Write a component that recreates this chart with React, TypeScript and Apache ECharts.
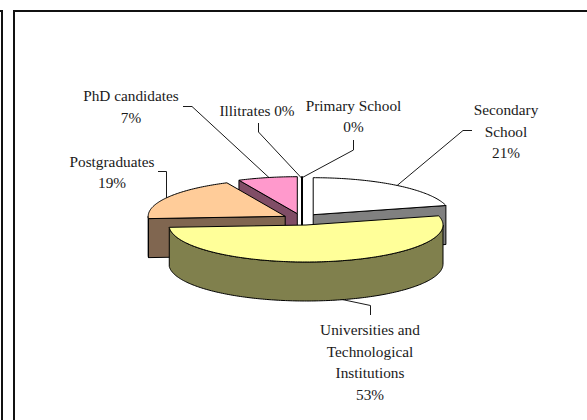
import React, { useEffect, useRef } from "react";
import * as echarts from "echarts";

// Attainment groups in clockwise order, starting at twelve o'clock.
const categories = [
  "Secondary\nSchool",
  "Universities and\nTechnological\nInstitutions",
  "Postgraduates",
  "PhD candidates",
  "Illitrates",
  "Primary School",
];
const shares = [21, 53, 19, 7, 0, 0];

const topColors = ["#ffffff", "#ffff99", "#ffcc99", "#ff99cc", "#000000", "#000000"];
const sideColors = ["#808080", "#80804d", "#806650", "#804d66", "#000000", "#000000"];

// Back-to-front painting rank of each slice.
const paintRank = [3, 4, 2, 1, 0, 0];

// Pie geometry: tilted ellipse radii, extrusion and each slice's pull-out.
const PIE = { cx: 301.5, cy: 219.3, rx: 137, ry: 37, depth: 39 };
const pullOut = [
  [11.7, -4.6],
  [4.5, 5.7],
  [-16.3, -3],
  [-4.2, -5.6],
  [0.5, -5.8],
  [0.5, -5.8],
];

// Label anchors and their leader lines.
const labelAnchors = [
  [506, 131],
  [370, 362],
  [112, 172],
  [131, 106.5],
  [257, 110],
  [353.5, 116],
];
const leaders = [
  [[472, 130.5], [463, 130.5], [396.5, 186]],
  [[335, 298], [370.5, 305.5], [370.5, 315]],
  [[158, 171.5], [166.5, 171.5], [166.5, 198]],
  [[183, 106.5], [192, 106.5], [270, 178.5]],
  [[258.5, 123], [258.5, 132], [301.5, 178]],
  [[353.5, 140], [353.5, 150], [301.5, 178]],
];

const FONT = "'Liberation Serif', 'Times New Roman', serif";
const total = shares.reduce((a, b) => a + b, 0);

function rad(deg: number) {
  return (deg * Math.PI) / 180;
}

function rimPoint(c: number[], deg: number, dy = 0) {
  return [c[0] + PIE.rx * Math.sin(rad(deg)), c[1] - PIE.ry * Math.cos(rad(deg)) + dy];
}

function arcPoints(c: number[], from: number, to: number, dy = 0) {
  const pts: number[][] = [];
  const steps = Math.max(1, Math.ceil(Math.abs(to - from)));
  for (let i = 0; i <= steps; i++) {
    pts.push(rimPoint(c, from + ((to - from) * i) / steps, dy));
  }
  return pts;
}

function renderSlice(params: any, api: any) {
  const i = params.dataIndex;
  const value = api.value(0);
  const before = shares.slice(0, i).reduce((a, b) => a + b, 0);
  const start = (before / total) * 360;
  const end = ((before + value) / total) * 360;
  const c = [PIE.cx + pullOut[i][0], PIE.cy + pullOut[i][1]];
  const z2 = paintRank[i];
  const d = PIE.depth;
  const edge = { stroke: "#000", lineWidth: 1, lineJoin: "round" };
  const children: any[] = [];

  if (value === 0) {
    // An empty slice collapses to a heavy radial stroke.
    children.push({
      type: "polyline",
      z2,
      shape: { points: [rimPoint(c, start), c, [c[0], c[1] + d]] },
      style: { fill: "none", stroke: "#000", lineWidth: 2 },
    });
    return { type: "group", children };
  }

  const wall = (deg: number) => {
    const p = rimPoint(c, deg);
    children.push({
      type: "polygon",
      z2,
      shape: { points: [c, p, [p[0], p[1] + d], [c[0], c[1] + d]] },
      style: { fill: sideColors[i], ...edge },
    });
  };

  // Cut faces that turn towards the viewer.
  if (start > 180 && start < 360) wall(start);
  if (end > 0 && end < 180) wall(end);

  // Outer rim on the near half of the ellipse.
  const a = Math.max(start, 90);
  const b = Math.min(end, 270);
  if (b > a) {
    children.push({
      type: "polygon",
      z2,
      shape: { points: [...arcPoints(c, a, b), ...arcPoints(c, b, a, d)] },
      style: { fill: sideColors[i], ...edge },
    });
  }

  children.push({
    type: "polygon",
    z2,
    shape: { points: [c, ...arcPoints(c, start, end)] },
    style: { fill: topColors[i], ...edge },
  });
  return { type: "group", children };
}

export default function App() {
  const ref = useRef<HTMLDivElement>(null);

  useEffect(() => {
    document.body.style.margin = "0";
    const chart = echarts.init(ref.current!, null, { renderer: "svg" });

    const labels = categories.map((name, i) => ({
      type: "text",
      x: labelAnchors[i][0],
      y: labelAnchors[i][1],
      style: {
        text: name === "Illitrates" ? `${name} ${shares[i]}%` : `${name}\n${shares[i]}%`,
        font: `15.3px ${FONT}`,
        fill: "#1a1a1a",
        align: "center",
        verticalAlign: "middle",
        lineHeight: 21.5,
      },
    }));

    const leaderLines = leaders.map((points) => ({
      type: "polyline",
      shape: { points },
      style: { fill: "none", stroke: "#1a1a1a", lineWidth: 1 },
    }));

    const frames = [
      [[14, 420], [14, 11], [587, 11]],
      [[0, 11], [2, 11], [2, 420]],
    ].map((points) => ({
      type: "polyline",
      shape: { points },
      style: { fill: "none", stroke: "#111", lineWidth: 2 },
    }));

    chart.setOption({
      animation: false,
      backgroundColor: "#ffffff",
      series: [
        {
          type: "custom",
          coordinateSystem: "none",
          silent: true,
          renderItem: renderSlice,
          data: shares.map((v) => [v]),
        },
      ],
      graphic: { elements: [...frames, ...leaderLines, ...labels] },
    });

    return () => chart.dispose();
  }, []);

  return <div ref={ref} style={{ width: 587, height: 420 }} />;
}
